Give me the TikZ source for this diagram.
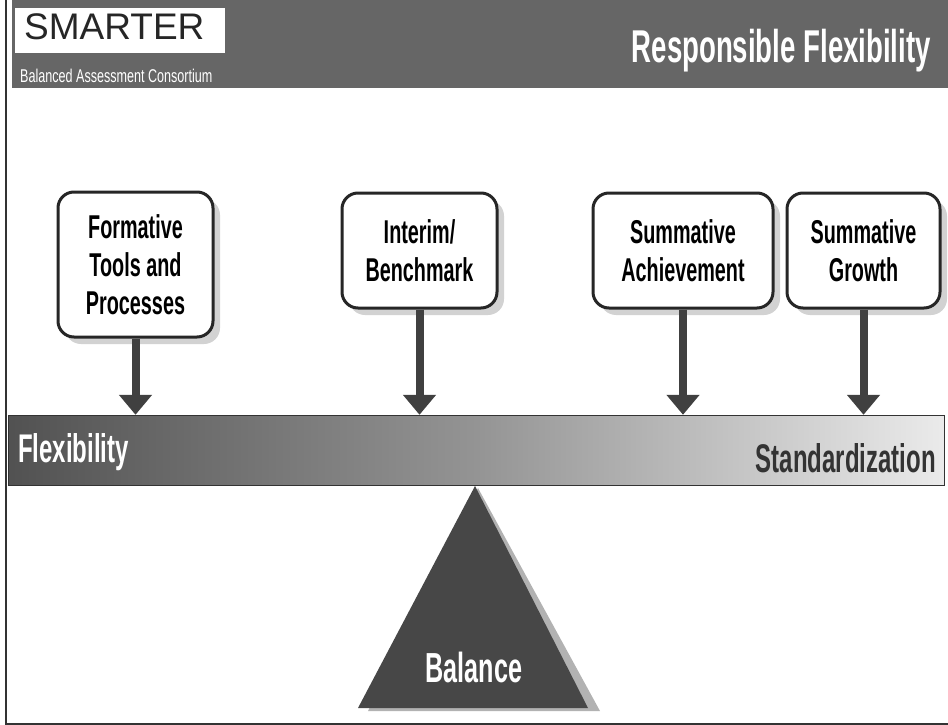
\documentclass[tikz,border=0pt]{standalone}
\usepackage{fontspec}
\setmainfont{Liberation Sans}
\newfontfamily\narrow{Liberation Sans}[FakeStretch=0.68]
\newfontfamily\slimfont{Liberation Sans}[FakeStretch=0.6]
\usetikzlibrary{shapes,arrows.meta}
\usetikzlibrary{shadows}
\tikzstyle{card} = [draw=black!85, line width=3pt, fill=white, rounded corners=16pt,
   inner sep=0pt, align=center, font={\slimfont\bfseries\fontsize{33}{38}\selectfont},
   drop shadow={shadow xshift=7pt, shadow yshift=-7pt, fill=black!35}]
\tikzstyle{pointer} = [draw=black!75, line width=8pt, -{Triangle[width=32pt,length=20pt]}]
\tikzstyle{bigword} = [inner sep=0pt, font={\slimfont\bfseries\fontsize{40}{44}\selectfont}]

\begin{document}
\begin{tikzpicture}[x=1pt,y=-1pt]
\useasboundingbox (0,0) rectangle (948,725);

% frame
\draw[black!80, line width=1.2pt] (6,0) -- (6,724) -- (948,724);

% header strip
\fill[black!60] (12,0) rectangle (948,88);
\fill[white] (15,8) rectangle (225,53);
\node[anchor=base west, inner sep=0pt, black!85, font={\fontsize{37}{40}\selectfont}] (smarter) at (24,40) {SMARTER};
\node[anchor=base west, inner sep=0pt, white, font={\narrow\fontsize{18.5}{20}\selectfont}] (consortium) at (20,82) {Balanced Assessment Consortium};
\node[anchor=base east, inner sep=0pt, white, font={\slimfont\bfseries\fontsize{46}{50}\selectfont}] (title) at (931,63) {Responsible Flexibility};

% the four kinds
\node[card, minimum width=155pt, minimum height=145pt] (formative) at (135.5,264.5) {Formative\\Tools and\\Processes};
\node[card, minimum width=155pt, minimum height=115pt] (interim) at (419.5,250.5) {Interim/\\Benchmark};
\node[card, minimum width=180pt, minimum height=115pt] (sumach) at (683,250.5) {Summative\\Achievement};
\node[card, minimum width=153pt, minimum height=115pt] (sumgro) at (863.5,250.5) {Summative\\Growth};

% beam
\path[left color=black!68, right color=black!8, middle color=black!42, draw=black!80, line width=0.8pt]
   (8,415) rectangle (944,485);
\node[inner sep=0pt, minimum width=936pt, minimum height=70pt] (beam) at (476,450) {};
\node[bigword, anchor=base west, white] (flex) at (18,462) {Flexibility};
\node[bigword, anchor=base east, black!80] (std) at (936,472) {Standardization};

% arrows onto the beam
\draw[pointer] (formative.south) -- (formative.south |- beam.north);
\draw[pointer] (interim.south) -- (interim.south |- beam.north);
\draw[pointer] (sumach.south) -- (sumach.south |- beam.north);
\draw[pointer] (sumgro.south) -- (sumgro.south |- beam.north);

% fulcrum
\fill[black!30] (478,488) -- (600,711) -- (368,711) -- cycle;
\fill[black!72] (475,486) -- (588,708) -- (358,708) -- cycle;
\node[bigword, anchor=base, white, font={\slimfont\bfseries\fontsize{42}{44}\selectfont}] (balance) at (474,682) {Balance};

\end{tikzpicture}
\end{document}
